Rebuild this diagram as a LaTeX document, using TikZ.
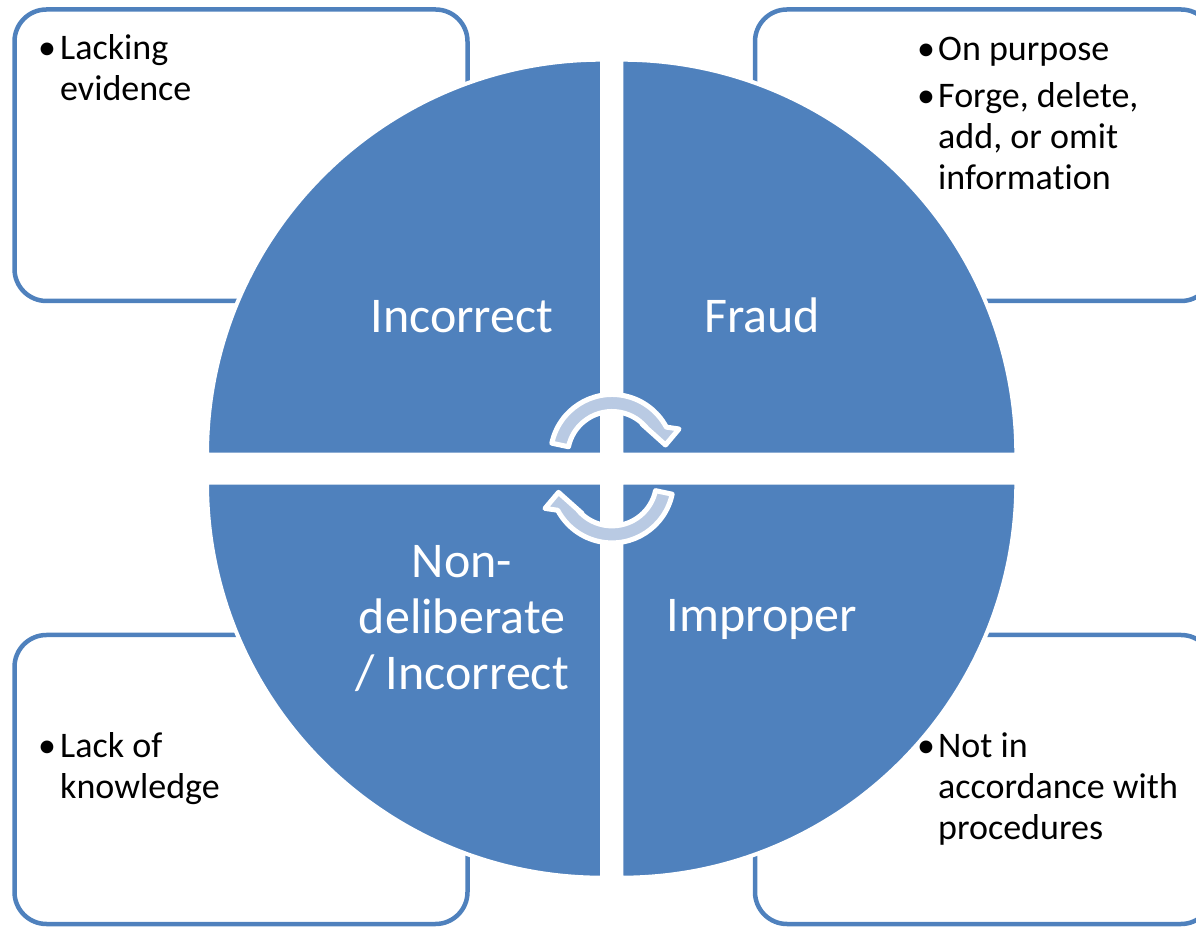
\documentclass[tikz,border=0pt]{standalone}
\usepackage{fontspec}
\setmainfont{Carlito}[Ligatures=NoCommon]

\begin{document}
\begin{tikzpicture}[x=1pt,y=1pt,
    quarter/.style={fill={rgb,255:red,79;green,129;blue,189},draw=white,line width=4pt},
    notebox/.style={draw={rgb,255:red,79;green,129;blue,189},line width=4.5pt,rounded corners=32pt},
    cyclearrow/.style={fill={rgb,255:red,185;green,202;blue,227},draw=white,line width=5pt,line join=round},
    kind/.style={text=white,inner sep=0pt,anchor=base,font=\fontsize{50}{56}\selectfont},
    note/.style={inner sep=0pt,anchor=base west,font=\fontsize{36}{41}\selectfont}]
    \useasboundingbox (0,0) rectangle (1196,926);
    \clip (0,0) rectangle (1196,926);

    %boxes
    \draw[notebox] (14.5,625) rectangle (467.5,916.5);
    \draw[notebox] (755,625) rectangle (1213,916.5);
    \draw[notebox] (14.5,2) rectangle (467.5,291);
    \draw[notebox] (755,2) rectangle (1213,291);

    %circle
    \path[quarter] (602,471.3) -- ++(-395,0) arc[start angle=180,end angle=90,radius=395] -- cycle;
    \path[quarter] (621.3,471.3) -- ++(0,395) arc[start angle=90,end angle=0,radius=395] -- cycle;
    \path[quarter] (602,443.3) -- ++(0,-395) arc[start angle=270,end angle=180,radius=395] -- cycle;
    \path[quarter] (621.3,443.3) -- ++(395,0) arc[start angle=0,end angle=-90,radius=395] -- cycle;

    %arrows
    \foreach \cy/\rot in {470/0,444.6/180}
        \path[cyclearrow,shift={(612,\cy)},rotate=\rot] (168:61.5) arc[start angle=168,end angle=28,radius=61.5]
            -- (67,27) -- (53.5,11) -- (30,32) -- (40:44.5) arc[start angle=40,end angle=168,radius=44.5] -- cycle;

    \node[kind] (incorrect) at (462,593) {Incorrect};
    \node[kind] (fraud) at (762,593) {Fraud};
    \node[kind] (nondelib) at (462,348) {\begin{tabular}[t]{@{}c@{}}Non-\\deliberate\\/ Incorrect\end{tabular}};
    \node[kind] (improper) at (762,294) {Improper};

    \node[note] (evidence) at (38,866) {\begin{tabular}[t]{@{}p{22pt}@{}l@{}}\textbullet&Lacking\\&evidence\end{tabular}};
    \node[note] (purpose) at (917,865) {\begin{tabular}[t]{@{}p{21pt}@{}l@{}}\textbullet&On purpose\\[6pt]\textbullet&Forge, delete,\\&add, or omit\\&information\end{tabular}};
    \node[note] (knowledge) at (38,168) {\begin{tabular}[t]{@{}p{22pt}@{}l@{}}\textbullet&Lack of\\&knowledge\end{tabular}};
    \node[note] (procedures) at (917,168) {\begin{tabular}[t]{@{}p{21pt}@{}l@{}}\textbullet&Not in\\&accordance with\\&procedures\end{tabular}};
\end{tikzpicture}
\end{document}
